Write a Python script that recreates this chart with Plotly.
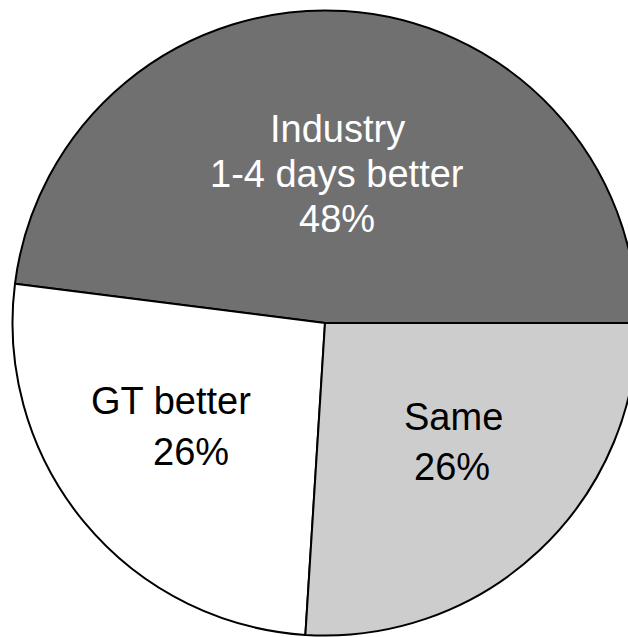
import plotly.graph_objects as go

# Survey result: which side performs better, in days
labels = ["Industry 1-4 days better", "GT better", "Same"]
values = [48, 26, 26]
label_lines = [["Industry", "1-4 days better"], ["GT better"], ["Same"]]
colors = ["#707070", "#ffffff", "#cdcdcd"]
text_colors = ["#ffffff", "#000000", "#000000"]

W, H = 650, 650
FONT = "Liberation Sans, Arial, Helvetica, sans-serif"
FS = 38

# pie centre and radius in pixels
cx, cy, r = 325, 323, 312.5


def px(x):
    return x / W


def py(y):
    return 1 - y / H


# first slice runs counterclockwise from 3 o'clock
start_angle = 90 - values[0] / sum(values) * 360

fig = go.Figure(
    go.Pie(
        labels=labels,
        values=values,
        sort=False,
        direction="counterclockwise",
        rotation=start_angle,
        textinfo="none",
        hoverinfo="none",
        marker=dict(colors=colors, line=dict(color="#000000", width=2)),
        domain=dict(x=[px(cx - r), px(cx + r)], y=[py(cy + r), py(cy - r)]),
        showlegend=False,
    )
)

# label blocks: (centre x per line, baseline y per line)
layout_pos = [
    ([337, 337, 337], [142, 187, 232]),
    ([171, 191], [414, 465]),
    ([453, 452], [430, 480]),
]

annotations = []
for i, (xs, ys) in enumerate(layout_pos):
    lines = label_lines[i] + [f"{values[i]}%"]
    for line, x, y in zip(lines, xs, ys):
        annotations.append(
            dict(
                text=line,
                x=px(x),
                y=py(y - 13),
                xref="paper",
                yref="paper",
                xanchor="center",
                yanchor="middle",
                showarrow=False,
                font=dict(family=FONT, size=FS, color=text_colors[i]),
            )
        )

fig.update_layout(
    width=W,
    height=H,
    margin=dict(l=0, r=0, t=0, b=0),
    paper_bgcolor="#ffffff",
    plot_bgcolor="#ffffff",
    annotations=annotations,
)

fig.write_html(
    "out.html",
    post_script="document.documentElement.style.overflow='hidden';document.body.style.overflow='hidden';",
)
